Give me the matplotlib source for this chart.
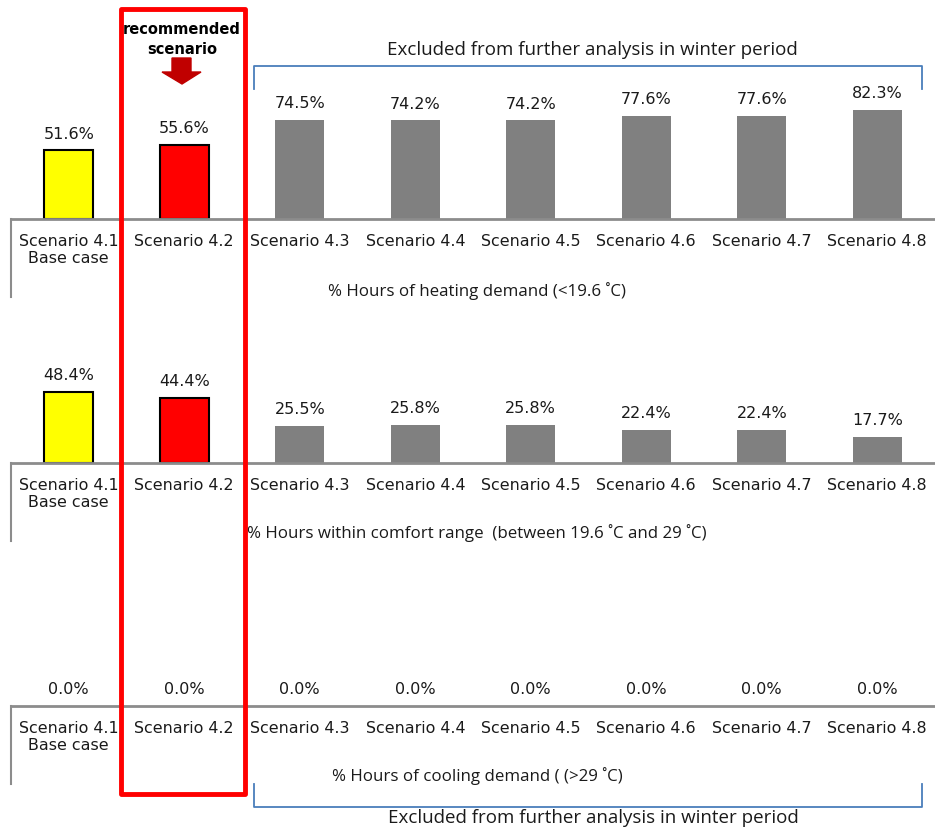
import matplotlib.pyplot as plt
from matplotlib.patches import Rectangle, Polygon

scenarios = ['Scenario 4.1\nBase case', 'Scenario 4.2', 'Scenario 4.3', 'Scenario 4.4',
             'Scenario 4.5', 'Scenario 4.6', 'Scenario 4.7', 'Scenario 4.8']
heating = [51.6, 55.6, 74.5, 74.2, 74.2, 77.6, 77.6, 82.3]
comfort = [48.4, 44.4, 25.5, 25.8, 25.8, 22.4, 22.4, 17.7]
cooling = [0.0, 0.0, 0.0, 0.0, 0.0, 0.0, 0.0, 0.0]
colors = ['#FFFF00', '#FF0000'] + ['#808080'] * 6
edges = ['black', 'black'] + ['none'] * 6

W, H = 935, 828
fig = plt.figure(figsize=(W / 100, H / 100), dpi=100)

AX_GRAY = '#8c8c8c'
BLUE = '#4a7ebb'


def px_axes(x0, y_top, x1, y_bottom):
    return fig.add_axes([x0 / W, 1 - y_bottom / H, (x1 - x0) / W, (y_bottom - y_top) / H])


def panel(values, y_base, px_per_pct, title, title_y):
    top = y_base - 170
    ax = px_axes(11, top, 935, y_base)
    ax.set_xlim(-0.5, 7.5)
    ax.set_ylim(0, (y_base - top) / px_per_pct)
    ax.patch.set_alpha(0)
    x = range(len(values))
    widths = [1.5 if v > 0 else 0 for v in values]
    bars = ax.bar(x, values, width=0.42, color=colors, edgecolor=edges, linewidth=widths)
    for b, v in zip(bars, values):
        ax.annotate(f'{v:.1f}%', (b.get_x() + b.get_width() / 2, v),
                    xytext=(0, 7), textcoords='offset points',
                    ha='center', va='bottom', fontsize=11.5, color='#1a1a1a')
    ax.set_xticks(list(x))
    ax.set_xticklabels(scenarios, fontsize=11.4, color='#1a1a1a', linespacing=1.2)
    ax.tick_params(axis='x', length=0, pad=10)
    ax.set_yticks([])
    for s in ['top', 'right', 'left']:
        ax.spines[s].set_visible(False)
    ax.spines['bottom'].set_color(AX_GRAY)
    ax.spines['bottom'].set_linewidth(2)
    # left edge of the category axis running down past the labels
    over.plot([11, 11], [y_base, y_base + 78], color=AX_GRAY, lw=1.5)
    over.text(477, title_y, title, ha='center', va='center', fontsize=12.2,
              family='Open Sans', color='#1a1a1a')


# overlay in pixel coordinates for annotations
over = fig.add_axes([0, 0, 1, 1])
over.set_xlim(0, W)
over.set_ylim(H, 0)
over.axis('off')
over.set_zorder(5)

panel(heating, 220, 1.33, '% Hours of heating demand (<19.6 ˚C)', 291)
panel(comfort, 464, 1.47, '% Hours within comfort range  (between 19.6 ˚C and 29 ˚C)', 533)
panel(cooling, 707, 1.4, '% Hours of cooling demand ( (>29 ˚C)', 776)

# recommended scenario highlight
over.add_patch(Rectangle((121, 9.5), 124, 786, fill=False, edgecolor='#FF0000',
                         linewidth=3.5, joinstyle='round'))
over.text(182, 30, 'recommended', ha='center', va='center', fontsize=10.5, fontweight='bold')
over.text(182, 49, 'scenario', ha='center', va='center', fontsize=10.5, fontweight='bold')
over.add_patch(Polygon([(172, 59), (191, 59), (191, 73), (201, 73), (182, 85),
                        (162, 73), (172, 73)], closed=True, color='#C00000'))

# brackets for excluded scenarios
over.plot([254, 254, 922, 922], [90, 67, 67, 90], color=BLUE, lw=1.3)
over.plot([254, 254, 922, 922], [785, 808, 808, 785], color=BLUE, lw=1.3)
over.text(592, 50, 'Excluded from further analysis in winter period', ha='center',
          va='center', fontsize=13.5, family='Open Sans', color='#1a1a1a')
over.text(593, 818, 'Excluded from further analysis in winter period', ha='center',
          va='center', fontsize=13.5, family='Open Sans', color='#1a1a1a')

fig.savefig('out.png', dpi=100)
